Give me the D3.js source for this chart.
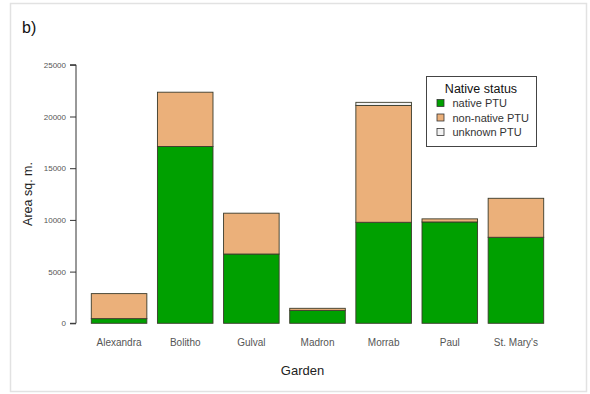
<!DOCTYPE html>
<html>
<head>
<meta charset="utf-8">
<script src="https://cdn.jsdelivr.net/npm/d3@7"></script>
<style>
  html, body { margin: 0; padding: 0; background: #fff; }
  svg { display: block; font-family: "Liberation Sans", Arial, sans-serif; }
</style>
</head>
<body>
<svg id="chart" width="590" height="394"></svg>
<script>
// Garden areas (sq. m.) split by native status of plant taxonomic units
const gardens = ["Alexandra", "Bolitho", "Gulval", "Madron", "Morrab", "Paul", "St. Mary's"];
const nativePTU    = [450, 17100, 6700, 1250, 9770, 9800, 8320];
const nonNativePTU = [2420, 5250, 3950, 200, 11300, 300, 3770];
const unknownPTU   = [0, 0, 0, 0, 300, 0, 0];
const statusKeys   = ["native", "nonnative", "unknown"];
const statusLabels = ["native PTU", "non-native PTU", "unknown PTU"];
const statusColors = ["#00a000", "#ebb07a", "#f2f2f2"];
const yTicks = [0, 5000, 10000, 15000, 20000, 25000];

const rows = gardens.map((g, i) => ({
  garden: g,
  native: nativePTU[i],
  nonnative: nonNativePTU[i],
  unknown: unknownPTU[i]
}));

const svg = d3.select("#chart");

// outer frame
svg.append("rect")
  .attr("x", 10.5).attr("y", 3.5).attr("width", 576).attr("height", 388)
  .attr("fill", "#fff").attr("stroke", "#e2e2e2").attr("stroke-width", 1.5);

svg.append("text")
  .attr("x", 22).attr("y", 33)
  .attr("font-size", 16).attr("fill", "#111")
  .text("b)");

const plot = { left: 86, right: 549, top: 64.8, bottom: 323.3 };

const x = d3.scaleBand()
  .domain(gardens)
  .range([plot.left, plot.right])
  .paddingInner(0.16)
  .paddingOuter(0.08);

const y = d3.scaleLinear()
  .domain([0, 25000])
  .range([plot.bottom, plot.top]);

const stack = d3.stack().keys(statusKeys)(rows);
const color = d3.scaleOrdinal().domain(statusKeys).range(statusColors);

const layers = svg.append("g").selectAll("g")
  .data(stack)
  .join("g")
  .attr("fill", d => color(d.key));

layers.selectAll("rect")
  .data(d => d.filter(s => s[1] - s[0] > 0))
  .join("rect")
  .attr("x", d => x(d.data.garden))
  .attr("width", x.bandwidth())
  .attr("y", d => y(d[1]))
  .attr("height", d => y(d[0]) - y(d[1]))
  .attr("stroke", "#3a3a2a")
  .attr("stroke-width", 0.9);

// y axis, R style: line spans first to last tick, labels left of ticks
const yAxis = svg.append("g")
  .attr("transform", `translate(${plot.left - 10},0)`)
  .call(d3.axisLeft(y).tickValues(yTicks).tickSize(6).tickFormat(d3.format("d")));
yAxis.select(".domain").attr("d", `M-6,${y(0)}H0V${y(25000)}H-6`).attr("stroke", "#333");
yAxis.selectAll(".tick line").attr("stroke", "#333");
yAxis.selectAll(".tick text")
  .attr("font-size", 8).attr("fill", "#555")
  .attr("font-family", "Liberation Sans, Arial, sans-serif")
  .attr("x", -10);

// category labels
svg.append("g").selectAll("text")
  .data(gardens)
  .join("text")
  .attr("x", d => x(d) + x.bandwidth() / 2)
  .attr("y", 346)
  .attr("text-anchor", "middle")
  .attr("font-size", 10).attr("fill", "#555")
  .text(d => d);

svg.append("text")
  .attr("x", 302.5).attr("y", 375)
  .attr("text-anchor", "middle")
  .attr("font-size", 13).attr("fill", "#222")
  .text("Garden");

svg.append("text")
  .attr("transform", "translate(32,194) rotate(-90)")
  .attr("text-anchor", "middle")
  .attr("font-size", 12.5).attr("fill", "#222")
  .text("Area sq. m.");

// legend
const legend = svg.append("g").attr("transform", "translate(426,76)");
legend.append("rect")
  .attr("x", 0.5).attr("y", 0.5).attr("width", 110).attr("height", 70)
  .attr("fill", "#fff").attr("stroke", "#444").attr("stroke-width", 1);
legend.append("text")
  .attr("x", 55).attr("y", 16.5)
  .attr("text-anchor", "middle")
  .attr("font-size", 12.5).attr("fill", "#111")
  .text("Native status");
const items = legend.selectAll("g.item")
  .data(statusLabels)
  .join("g")
  .attr("class", "item")
  .attr("transform", (d, i) => `translate(0,${27.5 + i * 14.5})`);
items.append("rect")
  .attr("x", 11).attr("y", -4).attr("width", 7).attr("height", 7)
  .attr("fill", (d, i) => statusColors[i])
  .attr("stroke", "#333").attr("stroke-width", 0.8);
items.append("text")
  .attr("x", 26.5).attr("y", 3.5)
  .attr("font-size", 11).attr("fill", "#333")
  .text(d => d);
</script>
</body>
</html>
